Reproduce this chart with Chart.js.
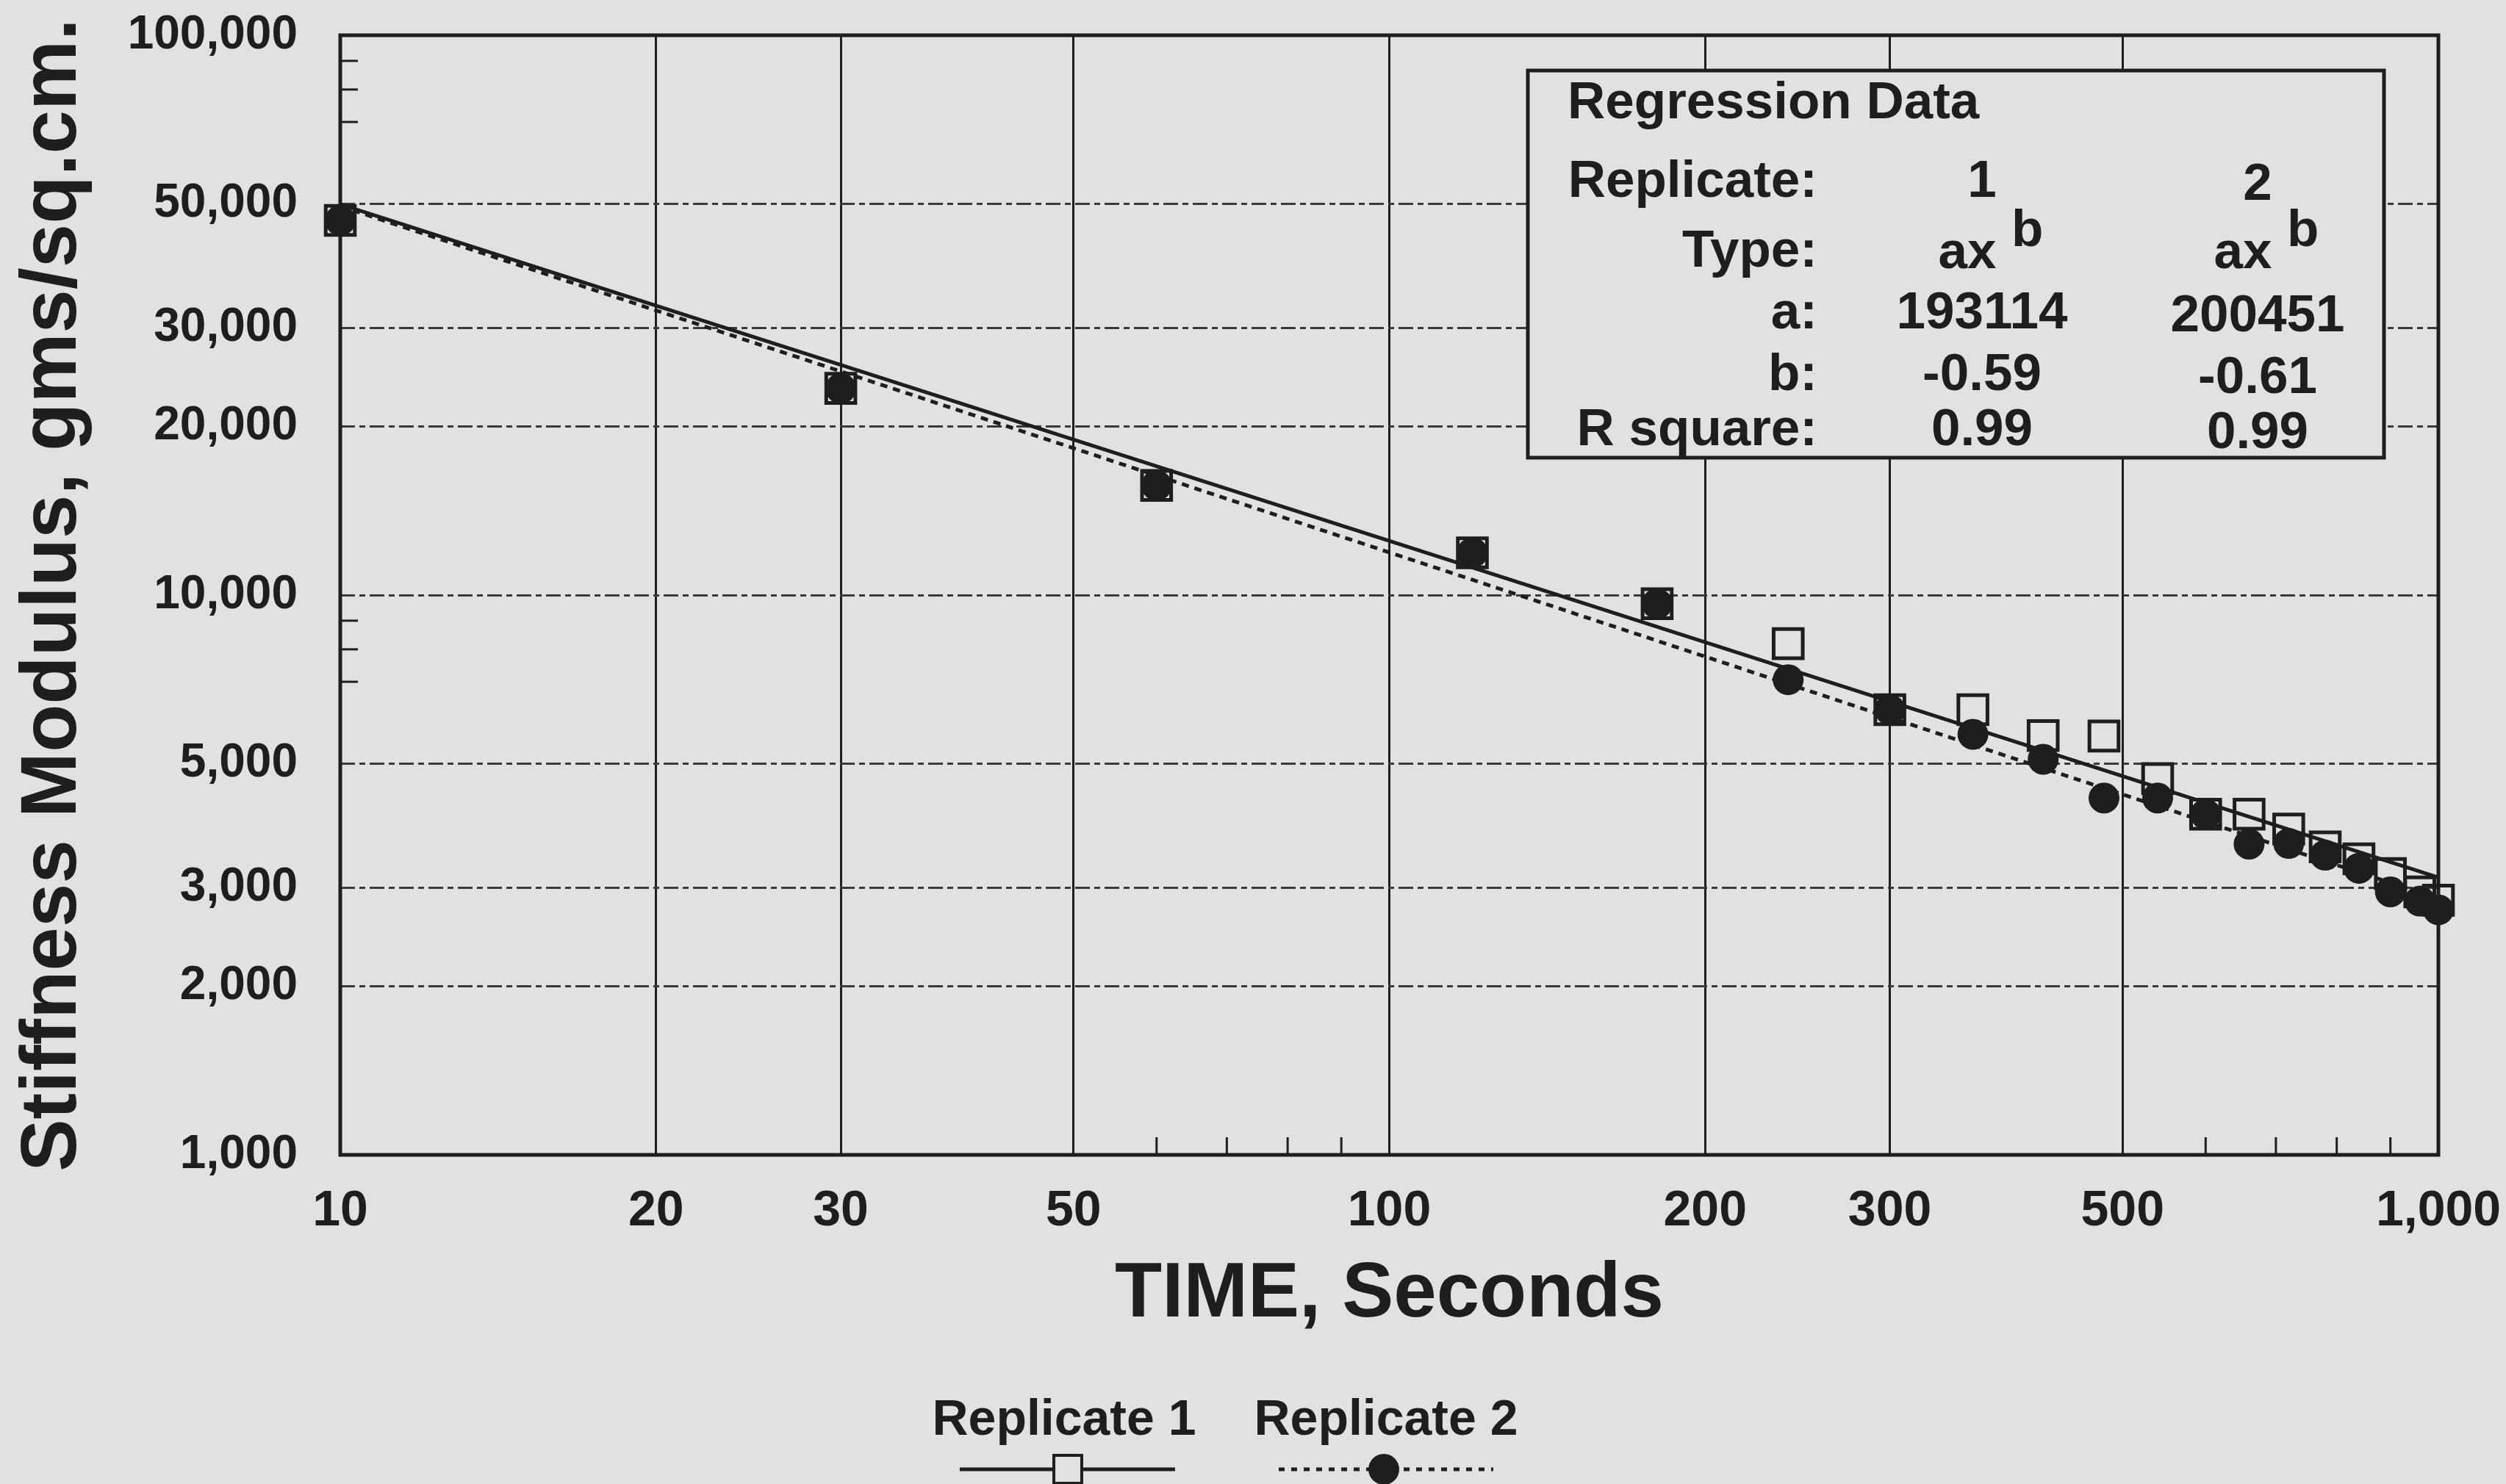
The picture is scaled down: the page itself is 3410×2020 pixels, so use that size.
<!DOCTYPE html>
<html>
<head>
<meta charset="utf-8">
<title>Stiffness Modulus vs Time</title>
<script src="https://cdn.jsdelivr.net/npm/chart.js@4.4.0/dist/chart.umd.min.js"></script>
<style>
    html, body { margin: 0; padding: 0; background: #e1e1e1; }
    #wrap { width: 3410px; height: 2020px; position: relative; }
</style>
</head>
<body>
<div id="wrap"><canvas id="chart"></canvas></div>
<script>
// Measured points (seconds, gms/sq.cm.)
const times = [10, 30, 60, 120, 180, 240, 300, 360, 420, 480, 540, 600, 660, 720, 780, 840, 900, 960, 1000];
const replicate1 = [46700, 23400, 15700, 11900, 9650, 8190, 6240, 6240, 5610, 5600, 4700, 4060, 4060, 3820, 3550, 3380, 3180, 2950, 2850];
const replicate2 = [46700, 23400, 15700, 11900, 9650, 7060, 6240, 5640, 5090, 4340, 4340, 4060, 3590, 3600, 3430, 3250, 2950, 2840, 2740];

// Regression lines, end points
const fitTimes = [10, 1000];
const fit1 = [49900, 3130];
const fit2 = [49500, 2870];

const xTicks = [10, 20, 30, 50, 100, 200, 300, 500, 1000];
const yTicks = [1000, 2000, 3000, 5000, 10000, 20000, 30000, 50000, 100000];
const xMinorTicks = [60, 70, 80, 90, 600, 700, 800, 900];
const yMinorTicks = [7000, 8000, 9000, 70000, 80000, 90000];

// Regression table
const regLabels = ['Replicate:', 'Type:', 'a:', 'b:', 'R square:'];
const regRep1 = ['1', 'ax', '193114', '-0.59', '0.99'];
const regRep2 = ['2', 'ax', '200451', '-0.61', '0.99'];

const INK = '#1e1e1e';
const BG = '#e1e1e1';
const FAMILY = '"Liberation Sans", Arial, Helvetica, sans-serif';

const toPoints = (xs, ys) => xs.map((x, i) => ({ x, y: ys[i] }));

// frame, inner minor ticks, regression box and legend
const decorPlugin = {
    id: 'decor',
    beforeDatasetsDraw(chart) {
        const { ctx, chartArea: a, scales: { x, y } } = chart;
        ctx.save();
        ctx.strokeStyle = INK;
        ctx.lineWidth = 3;
        xMinorTicks.forEach(v => {
            const px = x.getPixelForValue(v);
            ctx.beginPath();
            ctx.moveTo(px, a.bottom);
            ctx.lineTo(px, a.bottom - 24);
            ctx.stroke();
        });
        yMinorTicks.forEach(v => {
            const py = y.getPixelForValue(v);
            ctx.beginPath();
            ctx.moveTo(a.left, py);
            ctx.lineTo(a.left + 24, py);
            ctx.stroke();
        });
        ctx.lineWidth = 5;
        ctx.strokeRect(a.left, a.top, a.right - a.left, a.bottom - a.top);
        ctx.restore();
    },
    afterDatasetsDraw(chart) {
        const { ctx } = chart;
        ctx.save();

        // Regression Data box
        ctx.fillStyle = BG;
        ctx.fillRect(2079, 96, 1165, 527);
        ctx.strokeStyle = INK;
        ctx.lineWidth = 5;
        ctx.strokeRect(2079, 96, 1165, 527);

        ctx.fillStyle = INK;
        ctx.font = `bold 71px ${FAMILY}`;
        ctx.textBaseline = 'alphabetic';
        ctx.textAlign = 'left';
        ctx.fillText('Regression Data', 2133, 161);

        const rowY = [268, 363, 447, 531, 606];
        const col1 = 2697;
        const col2 = 3072;
        regLabels.forEach((label, i) => {
            ctx.textAlign = 'right';
            ctx.fillText(label, 2473, rowY[i]);
            [[col1, regRep1[i]], [col2, regRep2[i]]].forEach(([cx, txt]) => {
                if (txt === 'ax') {
                    ctx.textAlign = 'center';
                    ctx.fillText('ax', cx - 20, rowY[i] + 2);
                    ctx.textAlign = 'left';
                    ctx.fillText('b', cx + 40, rowY[i] - 28);
                } else {
                    ctx.textAlign = 'center';
                    ctx.fillText(txt, cx, rowY[i] + (cx === col2 ? 4 : 0));
                }
            });
        });

        // Legend
        ctx.font = `bold 68px ${FAMILY}`;
        ctx.textAlign = 'center';
        ctx.fillText('Replicate 1', 1448, 1953);
        ctx.fillText('Replicate 2', 1886, 1953);

        ctx.lineWidth = 5;
        ctx.beginPath();
        ctx.moveTo(1306, 2000);
        ctx.lineTo(1599, 2000);
        ctx.stroke();
        ctx.fillStyle = BG;
        ctx.fillRect(1453 - 19, 2000 - 19, 38, 38);
        ctx.fillStyle = INK;
        ctx.lineWidth = 4;
        ctx.strokeRect(1453 - 19, 2000 - 19, 38, 38);

        ctx.lineWidth = 5;
        ctx.setLineDash([8, 9]);
        ctx.beginPath();
        ctx.moveTo(1740, 2000);
        ctx.lineTo(2032, 2000);
        ctx.stroke();
        ctx.setLineDash([]);
        ctx.beginPath();
        ctx.arc(1883, 2000, 21, 0, Math.PI * 2);
        ctx.fill();

        ctx.restore();
    },
};

new Chart(document.getElementById('chart'), {
    type: 'scatter',
    data: {
        datasets: [
            {
                label: 'Replicate 2',
                data: toPoints(times, replicate2),
                pointStyle: 'circle',
                pointRadius: 21,
                backgroundColor: INK,
                borderColor: INK,
                borderWidth: 0,
                clip: false,
                order: 1,
            },
            {
                label: 'Replicate 1',
                data: toPoints(times, replicate1),
                pointStyle: 'rect',
                pointRadius: 28,
                backgroundColor: 'rgba(0,0,0,0)',
                borderColor: INK,
                borderWidth: 5,
                clip: false,
                order: 2,
            },
            {
                label: 'Replicate 1 fit',
                data: toPoints(fitTimes, fit1),
                showLine: true,
                pointRadius: 0,
                borderColor: INK,
                borderWidth: 5,
                order: 3,
            },
            {
                label: 'Replicate 2 fit',
                data: toPoints(fitTimes, fit2),
                showLine: true,
                pointRadius: 0,
                borderColor: INK,
                borderWidth: 5,
                borderDash: [10, 8],
                order: 4,
            },
        ],
    },
    options: {
        responsive: true,
        maintainAspectRatio: false,
        animation: false,
        events: [],
        layout: { padding: { top: 48, right: 92, left: 0, bottom: 0 } },
        plugins: { legend: { display: false }, tooltip: { enabled: false } },
        scales: {
            x: {
                type: 'logarithmic',
                min: 10,
                max: 1000,
                afterBuildTicks: s => { s.ticks = xTicks.map(v => ({ value: v })); },
                afterFit: s => {
                    s.height = 448;
                    s.paddingLeft = 0;
                    s.paddingRight = 0;
                },
                ticks: {
                    autoSkip: false,
                    maxRotation: 0,
                    padding: 36,
                    color: INK,
                    font: { family: FAMILY, size: 68, weight: 'bold' },
                    callback: v => Number(v).toLocaleString('en-US'),
                },
                grid: { color: INK, lineWidth: 3, drawTicks: false },
                border: { display: false },
                title: {
                    display: true,
                    text: 'TIME, Seconds',
                    color: INK,
                    font: { family: FAMILY, size: 105, weight: 'bold' },
                    padding: { top: 0, bottom: 194 },
                },
            },
            y: {
                type: 'logarithmic',
                min: 1000,
                max: 100000,
                afterBuildTicks: s => { s.ticks = yTicks.map(v => ({ value: v })); },
                afterFit: s => {
                    s.width = 463;
                    s.paddingTop = 0;
                    s.paddingBottom = 0;
                },
                ticks: {
                    autoSkip: false,
                    padding: 58,
                    color: INK,
                    font: { family: FAMILY, size: 64, weight: 'bold' },
                    callback: v => Number(v).toLocaleString('en-US'),
                },
                grid: { color: '#3a3a3a', lineWidth: 3, drawTicks: false },
                border: { display: false, dash: [20, 6, 8, 6] },
                title: {
                    display: true,
                    text: 'Stiffness Modulus, gms/sq.cm.',
                    color: INK,
                    font: { family: FAMILY, size: 107, weight: 'bold' },
                    padding: { top: 9, bottom: 0 },
                },
            },
        },
    },
    plugins: [decorPlugin],
});
</script>
</body>
</html>
